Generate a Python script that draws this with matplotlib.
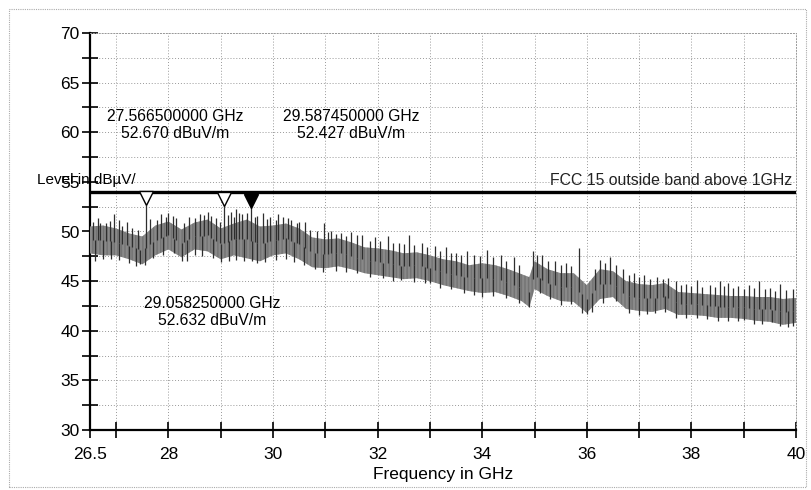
import matplotlib.pyplot as plt
import numpy as np
from matplotlib.patches import Rectangle

plt.rcParams['font.family'] = ['Liberation Sans', 'DejaVu Sans']
plt.rcParams['hatch.linewidth'] = 0.6

# body of the trace (upper / lower edge), read every 0.25 GHz
band_f = [26.5, 26.75, 27.0, 27.25, 27.5, 27.75, 28.0, 28.25, 28.5, 28.75,
          29.0, 29.25, 29.5, 29.75, 30.0, 30.25, 30.5, 30.75, 31.0, 31.25,
          31.5, 31.75, 32.0, 32.25, 32.5, 32.75, 33.0, 33.25, 33.5, 33.75,
          34.0, 34.25, 34.5, 34.75, 34.9, 35.0, 35.25, 35.5, 35.75, 36.0,
          36.25, 36.5, 36.75, 37.0, 37.25, 37.5, 37.75, 38.0, 38.25, 38.5,
          38.75, 39.0, 39.25, 39.5, 39.75, 40.0]
band_hi = [50.5, 50.6, 50.3, 49.8, 49.5, 50.6, 51.0, 50.2, 50.9, 51.2,
           50.3, 50.8, 51.2, 50.5, 50.6, 50.8, 50.3, 49.4, 49.2, 49.3,
           48.9, 48.4, 48.3, 48.1, 47.8, 47.9, 47.6, 47.2, 47.0, 46.6,
           46.8, 46.6, 46.2, 45.7, 45.4, 47.0, 46.2, 45.8, 45.8, 44.6,
           46.2, 46.0, 45.0, 44.7, 44.6, 44.8, 43.9, 43.8, 43.7, 43.6,
           43.5, 43.5, 43.4, 43.4, 43.2, 43.3]
band_lo = [47.8, 47.6, 47.6, 47.2, 46.7, 47.6, 48.2, 47.4, 48.2, 48.0,
           47.2, 47.6, 47.3, 47.0, 47.6, 47.8, 47.2, 46.4, 46.3, 46.5,
           46.2, 45.8, 45.6, 45.4, 45.2, 45.3, 45.0, 44.6, 44.3, 44.0,
           43.8, 43.9, 43.5, 43.0, 42.4, 44.2, 43.5, 43.0, 42.9, 41.8,
           43.2, 43.4, 42.2, 42.0, 41.9, 42.2, 41.6, 41.6, 41.5, 41.3,
           41.3, 41.2, 41.0, 40.9, 40.6, 40.8]

# single peaks sticking out above the body
peak_f = [26.55, 26.65, 26.7, 26.8, 26.88, 26.95, 27.05, 27.12, 27.2, 27.3,
          27.42, 27.5665, 27.65, 27.78, 27.85, 27.95, 28.0, 28.08, 28.15, 28.3,
          28.4, 28.5, 28.6, 28.68, 28.75, 28.82, 28.9, 28.98, 29.05825, 29.13,
          29.2, 29.25, 29.3, 29.35, 29.4, 29.5, 29.58745, 29.65, 29.7, 29.8,
          29.88, 29.95, 30.05, 30.1, 30.2, 30.28, 30.35, 30.45, 30.5, 30.62,
          30.7, 30.85, 30.98, 31.05, 31.1, 31.2, 31.3, 31.4, 31.5, 31.6,
          31.7, 31.85, 31.95, 32.05, 32.2, 32.3, 32.4, 32.5, 32.6, 32.7,
          32.85, 32.95, 33.1, 33.2, 33.3, 33.4, 33.5, 33.6, 33.7, 33.85,
          33.95, 34.1, 34.2, 34.35, 34.45, 34.6, 34.7, 34.98, 35.05, 35.15,
          35.25, 35.4, 35.5, 35.6, 35.7, 35.85, 36.15, 36.25, 36.35, 36.45,
          36.55, 36.7, 36.8, 36.9, 37.0, 37.1, 37.2, 37.35, 37.45, 37.55,
          37.7, 37.8, 37.9, 38.0, 38.1, 38.2, 38.35, 38.45, 38.55, 38.62,
          38.7, 38.8, 38.9, 39.0, 39.1, 39.2, 39.3, 39.4, 39.5, 39.6,
          39.7, 39.8, 39.95]
peak_lvl = [51.0, 51.4, 50.9, 50.9, 51.1, 51.8, 51.2, 50.6, 51.0, 50.4,
            50.2, 52.67, 51.3, 51.2, 51.8, 51.5, 51.9, 51.6, 51.4, 50.9,
            51.5, 51.4, 51.8, 51.7, 52.0, 51.6, 51.4, 51.0, 52.632, 51.7,
            52.0, 51.5, 52.3, 51.9, 51.8, 51.9, 52.427, 51.5, 51.6, 51.9,
            51.3, 51.5, 51.2, 51.8, 51.5, 51.4, 51.2, 50.9, 51.0, 51.0,
            50.2, 50.1, 50.9, 49.9, 50.0, 49.7, 49.8, 49.5, 49.9, 49.6,
            49.6, 49.0, 49.4, 49.0, 49.5, 48.8, 48.8, 48.7, 49.6, 48.6,
            48.8, 48.4, 48.5, 48.0, 48.4, 47.8, 47.8, 47.6, 48.0, 47.6,
            47.5, 48.1, 47.4, 47.6, 47.0, 47.4, 46.6, 48.0, 47.6, 47.6,
            47.0, 47.0, 46.6, 46.8, 46.5, 48.3, 46.2, 47.1, 46.8, 47.4,
            46.6, 46.2, 45.6, 45.8, 45.4, 45.6, 45.2, 45.4, 45.2, 45.3,
            45.0, 44.6, 44.7, 44.5, 45.1, 44.4, 44.6, 44.4, 45.0, 44.5,
            44.8, 44.3, 44.5, 44.2, 44.6, 44.3, 45.0, 44.2, 44.3, 44.0,
            44.7, 44.1, 44.2]

# single dips below the body
dip_f = [26.6, 26.75, 26.9, 27.05, 27.25, 27.38, 27.45, 27.55, 27.7, 27.9,
         28.1, 28.25, 28.35, 28.5, 28.65, 28.85, 29.0, 29.15, 29.3, 29.45,
         29.6, 29.7, 29.85, 30.05, 30.25, 30.4, 30.6, 30.8, 30.95, 31.2,
         31.4, 31.6, 31.85, 32.1, 32.3, 32.45, 32.7, 32.9, 33.0, 33.2,
         33.4, 33.65, 33.85, 34.0, 34.2, 34.45, 34.7, 34.9, 35.1, 35.3,
         35.5, 35.7, 35.9, 36.0, 36.1, 36.3, 36.55, 36.8, 37.0, 37.15,
         37.3, 37.5, 37.7, 37.9, 38.1, 38.3, 38.5, 38.7, 38.9, 39.0,
         39.2, 39.35, 39.55, 39.7, 39.85, 39.95]
dip_lvl = [47.0, 47.2, 47.2, 47.1, 46.8, 46.5, 46.7, 46.6, 47.3, 47.6,
           47.8, 47.0, 47.0, 47.6, 47.5, 47.3, 46.9, 47.0, 47.1, 47.0,
           47.0, 46.8, 46.9, 47.1, 47.2, 46.9, 46.6, 46.2, 45.9, 46.0,
           45.9, 45.8, 45.4, 45.3, 45.0, 45.1, 44.9, 44.8, 44.8, 44.3,
           44.2, 43.8, 43.6, 43.4, 43.5, 43.3, 42.8, 42.4, 43.8, 43.2,
           42.6, 42.7, 41.8, 41.7, 41.9, 42.8, 43.0, 41.8, 41.6, 41.7,
           41.8, 41.9, 41.3, 41.3, 41.3, 41.2, 41.0, 41.0, 41.0, 41.1,
           40.7, 40.7, 40.9, 40.5, 40.4, 40.5]

limit = 54.0
markers_f = [27.5665, 29.05825, 29.58745]
markers_lvl = [52.670, 52.632, 52.427]
markers_filled = [False, False, True]

fig = plt.figure(figsize=(8.12, 4.90), dpi=100)
fig.add_artist(Rectangle((9 / 812, 3 / 490), 797 / 812, 478 / 490,
                         transform=fig.transFigure, fill=False,
                         edgecolor='#aaaaaa', lw=0.8, ls=(0, (1, 1))))
ax = fig.add_axes([90 / 812, 60 / 490, 706 / 812, 397 / 490])

# trace
band_mid = (np.array(band_hi) + np.array(band_lo)) / 2
ax.fill_between(band_f, band_lo, band_hi, facecolor='#a2a2a2',
                edgecolor='#6a6a6a', hatch='|' * 12, lw=0, zorder=3)
ax.vlines(peak_f, np.interp(peak_f, band_f, band_mid), peak_lvl,
          color='#2e2e2e', lw=0.9, zorder=4)
ax.vlines(dip_f, dip_lvl, np.interp(dip_f, band_f, band_mid),
          color='#2e2e2e', lw=0.9, zorder=4)

# limit line
ax.plot([26.5, 40], [limit, limit], color='black', lw=2.4, zorder=5)
ax.text(39.92, limit + 0.35, 'FCC 15 outside band above 1GHz',
        ha='right', va='bottom', fontsize=11.4, color='#222222')

# markers
for f, lvl, filled in zip(markers_f, markers_lvl, markers_filled):
    ax.plot(f, lvl + 0.68, marker='v', markersize=10,
            markerfacecolor='black' if filled else 'white',
            markeredgecolor='black', markeredgewidth=1.0, zorder=6)

ax.text(28.13, 60.7, '27.566500000 GHz\n52.670 dBuV/m', ha='center',
        va='center', fontsize=11.3, linespacing=1.15)
ax.text(31.49, 60.7, '29.587450000 GHz\n52.427 dBuV/m', ha='center',
        va='center', fontsize=11.3, linespacing=1.15)
ax.text(28.83, 41.9, '29.058250000 GHz\n52.632 dBuV/m', ha='center',
        va='center', fontsize=11.3, linespacing=1.15)

ax.set_xlim(26.5, 40)
ax.set_ylim(30, 70)

xt = [26.5] + list(range(27, 41))
ax.set_xticks(xt)
ax.set_xticklabels(['26.5' if t == 26.5 else (str(t) if t % 2 == 0 else '')
                    for t in xt], fontsize=12.5)
ax.set_yticks(range(30, 71, 5))
ax.set_yticklabels([str(t) for t in range(30, 71, 5)], fontsize=12.5)
ax.set_yticks(np.arange(32.5, 70, 5), minor=True)
ax.tick_params(axis='both', which='both', direction='inout', length=11,
               width=1.2, color='black')
ax.tick_params(axis='x', pad=7)
ax.tick_params(axis='y', pad=2)

ax.grid(True, which='both', ls=(0, (1, 2)), color='#999999', lw=0.7)
ax.set_axisbelow(True)
for s in ['top', 'right']:
    ax.spines[s].set_linestyle((0, (1, 2)))
    ax.spines[s].set_color('#999999')
    ax.spines[s].set_linewidth(0.7)
for s in ['left', 'bottom']:
    ax.spines[s].set_linewidth(1.6)

ax.set_xlabel('Frequency in GHz', fontsize=12.5, labelpad=3)
fig.text(37 / 812, 1 - 180 / 490, 'Level in dBµV/', fontsize=11,
         ha='left', va='center')

fig.savefig('out.png', dpi=100)
